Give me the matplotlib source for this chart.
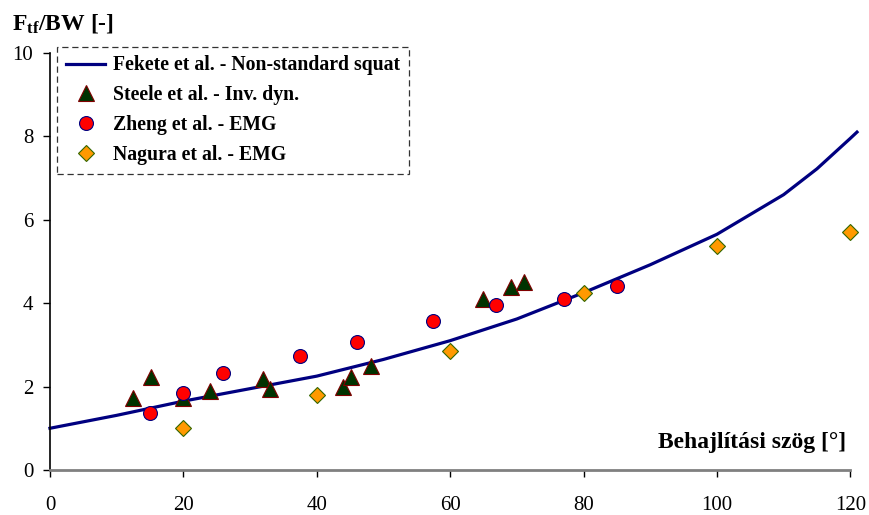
import matplotlib
matplotlib.use("Agg")
import matplotlib.pyplot as plt

plt.rcParams["font.family"] = ["Liberation Serif", "DejaVu Serif"]
plt.rcParams["mathtext.fontset"] = "custom"
plt.rcParams["mathtext.bf"] = "Liberation Serif:bold"
plt.rcParams["mathtext.rm"] = "Liberation Serif"

# Fekete et al. model curve
fekete_x = [0, 10, 20, 30, 40, 50, 60, 70, 80, 90, 100, 110, 115, 120, 121]
fekete_y = [1.0, 1.31, 1.65, 1.95, 2.25, 2.65, 3.1, 3.62, 4.25, 4.92, 5.65,
            6.6, 7.22, 7.95, 8.1]

# Steele et al. - inverse dynamics
steele_x = [12.5, 15.1, 20, 24, 32, 33, 44, 45.1, 48.1, 65, 69.1, 71]
steele_y = [1.72, 2.22, 1.72, 1.9, 2.18, 1.94, 1.98, 2.22, 2.5, 4.09, 4.38, 4.5]

# Zheng et al. - EMG
zheng_x = [15, 20, 25.9, 37.5, 46, 57.5, 66.9, 77, 85]
zheng_y = [1.37, 1.84, 2.33, 2.74, 3.08, 3.56, 3.96, 4.1, 4.41]

# Nagura et al. - EMG
nagura_x = [20, 40, 60, 80, 100, 120]
nagura_y = [1.01, 1.8, 2.85, 4.24, 5.38, 5.7]

fig = plt.figure(figsize=(8.69, 5.15), dpi=100)
ax = fig.add_axes([0.0575, 0.0874, 0.921, 0.81])

ax.plot(fekete_x, fekete_y, color="#000080", lw=2.3, zorder=2, clip_on=False,
        label="Fekete et al. - Non-standard squat")
ax.plot(steele_x, steele_y, ls="none", marker="^", ms=11, mfc="#003300",
        mec="#800000", mew=0.8, zorder=3, label="Steele et al. - Inv. dyn.")
ax.plot(zheng_x, zheng_y, ls="none", marker="o", ms=10, mfc="#ff0000",
        mec="#000080", mew=0.8, zorder=4, label="Zheng et al. - EMG")
ax.plot(nagura_x, nagura_y, ls="none", marker="D", ms=8, mfc="#ff9900",
        mec="#336600", mew=0.8, zorder=4, clip_on=False,
        label="Nagura et al. - EMG")

ax.set_xlim(0, 120)
ax.set_ylim(0, 10)
ax.set_xticks(range(0, 121, 20))
ax.set_yticks(range(0, 11, 2))
for s in ("top", "right"):
    ax.spines[s].set_visible(False)
ax.spines["bottom"].set_color("#808080")
ax.spines["bottom"].set_linewidth(2)
ax.spines["left"].set_linewidth(1.2)
ax.tick_params(axis="x", length=5, width=1, pad=14, labelsize=15, color="black")
ax.tick_params(axis="y", length=5, width=1, pad=7, labelsize=15)

leg = ax.legend(loc="upper left", bbox_to_anchor=(0.009, 1.015),
                prop={"weight": "bold", "size": 14.2}, frameon=True, fancybox=False,
                borderpad=0.45, labelspacing=0.5, handlelength=2.0,
                handletextpad=0.4, borderaxespad=0)
frame = leg.get_frame()
frame.set_edgecolor("black")
frame.set_linestyle((0, (5, 3)))
frame.set_linewidth(0.9)

fig.text(0.014, 0.955, r"$\mathbf{F_{tf}}$/BW [-]", fontsize=17,
         fontweight="bold", va="center", ha="left")
ax.text(0.995, 0.065, "Behajlítási szög [°]", transform=ax.transAxes,
        fontsize=17, fontweight="bold", ha="right", va="center")

fig.savefig("out.png", dpi=100)
